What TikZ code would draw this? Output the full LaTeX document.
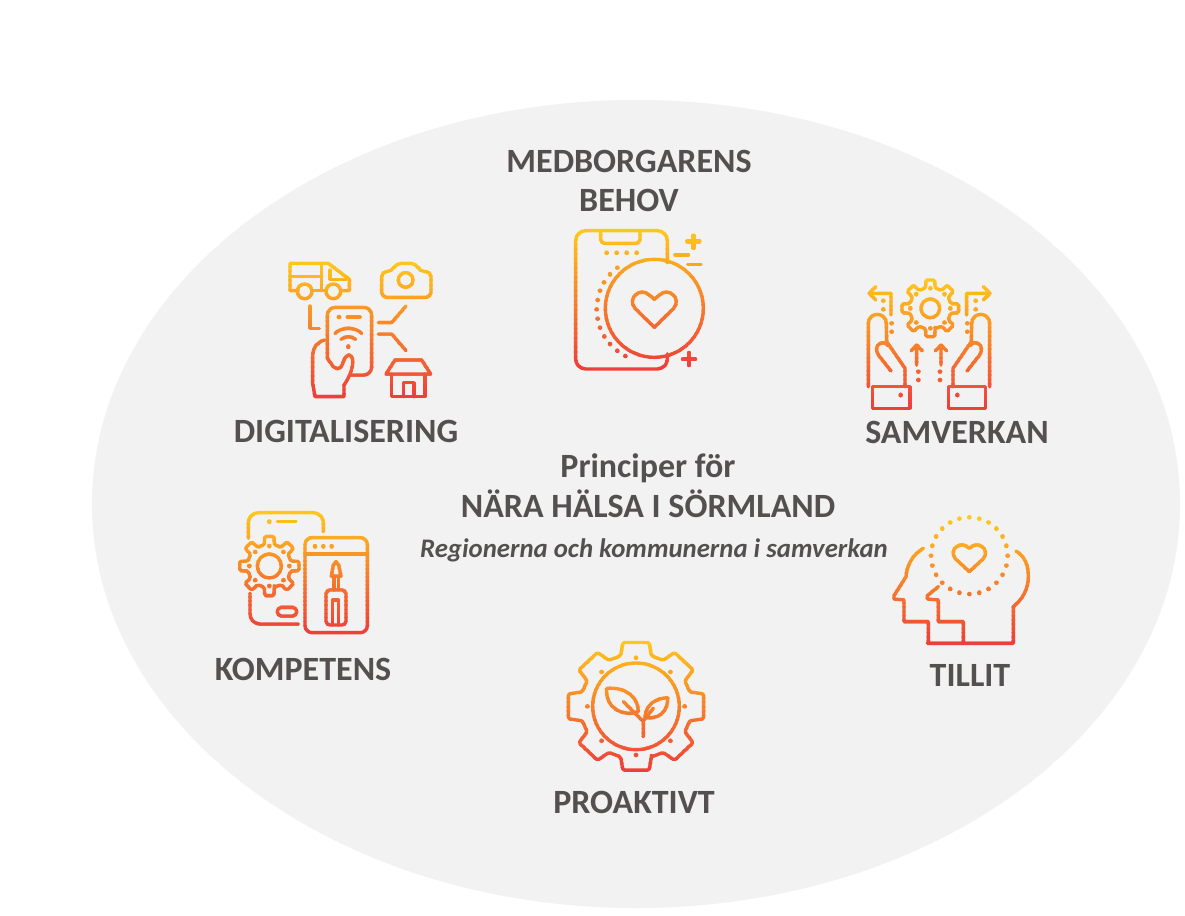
\documentclass[tikz,border=0pt]{standalone}
\usepackage{fontspec}
\setmainfont{Carlito}
\definecolor{txtc}{HTML}{545050}
\definecolor{bgell}{HTML}{F2F2F2}
\definecolor{icyel}{HTML}{FFC61C}
\definecolor{icred}{HTML}{EE3F3A}
\tikzset{lab/.style={text=txtc,inner sep=0pt,align=center,font=\bfseries\fontsize{34}{39.5}\selectfont}}
\newcommand\gradicon[5]{%
  \begin{scope}[shift={(#1,#2)},x=.33333pt,y=-.33333pt,line width=3.4pt,line cap=round,line join=round]
  \foreach \gi in {0,...,29}{%
    \pgfmathsetmacro\gv{100*\gi/29}%
    \pgfmathsetmacro\ga{\gi==0 ? -60 : #3+(#4-#3)*\gi/30}%
    \pgfmathsetmacro\gb{\gi==29 ? 700 : #3+(#4-#3)*(\gi+1)/30+2}%
    \colorlet{icol}{icred!\gv!icyel}%
    \begin{scope}[color=icol]
      \clip (-60,\ga) rectangle (700,\gb);
      #5
    \end{scope}
  }
  \end{scope}}
\newcommand\dt[2]{\fill (#1,#2) circle (7);}
% cx cy rout rin n halftop halfbase offset
\newcommand\gearp[8]{%
  \draw[shift={(#1,#2)},rounded corners=1.5pt] (#8-#7:#4)
   \foreach \gk in {1,...,#5}{ -- ({#8+(\gk-1)*360/#5-#6}:#3) -- ({#8+(\gk-1)*360/#5+#6}:#3) -- ({#8+(\gk-1)*360/#5+#7}:#4) -- ({#8+\gk*360/#5-#7}:#4)} -- cycle;}
\newcommand\geardots[5]{\foreach \gk in {1,...,#4}{\fill[shift={(#1,#2)}] ({#5+(\gk-1)*360/#4}:#3) circle (7);}}
\begin{document}
\begin{tikzpicture}[x=1pt,y=-1pt]
\useasboundingbox (0,0) rectangle (1185,915);
\fill[white] (0,0) rectangle (1185,915);
\fill[bgell] (636,504) ellipse [x radius=544,y radius=404];
% texts
\node[lab] (med) at (629,181) {MEDBORGARENS\\BEHOV};
\node[lab,anchor=base] (dig) at (346,442) {DIGITALISERING};
\node[lab,anchor=base] (sam) at (957,443) {SAMVERKAN};
\node[lab,anchor=base] (tit1) at (648,477) {Principer för};
\node[lab,anchor=base] (tit2) at (648,517) {NÄRA HÄLSA I SÖRMLAND};
\node[lab,anchor=base,font=\bfseries\itshape\fontsize{26.8}{30}\selectfont] (tit3) at (654,557) {Regionerna och kommunerna i samverkan};
\node[lab,anchor=base] (kom) at (303,680) {KOMPETENS};
\node[lab,anchor=base] (til) at (970,686) {TILLIT};
\node[lab,anchor=base] (pro) at (634,813) {PROAKTIVT};
% digitalisering
\gradicon{270}{220}{125}{535}{
 \draw (85,212) -- (60,212) -- (60,130) -- (175,130) -- (238,178) -- (238,212) -- (213,212);
 \draw (125,212) -- (168,212) (155,130) -- (155,212) (60,170) -- (155,170);
 \draw (180,150) -- (180,178) -- (228,178);
 \draw (104,214) circle (22) (190,214) circle (22);
 \draw[rounded corners=5pt] (335,232) -- (335,155) -- (365,155) -- (378,130) -- (438,130) -- (450,155) -- (483,155) -- (483,232) -- cycle;
 \draw (407,180) circle (22);
 \draw (120,258) -- (120,325) -- (148,325);
 \draw (325,308) -- (365,308) -- (408,258) (325,342) -- (365,342) -- (408,392);
 \draw[rounded corners=8pt] (172,415) -- (172,262) -- (305,262) -- (305,465) -- (245,465);
 \dt{207}{291}
 \draw (232,291) -- (270,291);
 \draw (195,340) .. controls (215,320) and (255,320) .. (275,340);
 \draw (213,358) .. controls (225,348) and (245,348) .. (257,358);
 \dt{235}{380}
 \draw (165,360) .. controls (140,365) and (128,385) .. (128,410) -- (128,490) -- (135,530) -- (222,530) -- (222,495) .. controls (240,470) and (250,440) .. (248,420) .. controls (245,400) and (230,400) .. (222,420) .. controls (215,440) and (210,455) .. (190,440) -- (172,415);
 \draw (348,462) -- (375,420) -- (455,420) -- (482,462) -- cycle;
 \draw (365,462) -- (365,530) -- (465,530) -- (465,462);
 \draw (400,530) -- (400,488) -- (432,488) -- (432,530);
}
% medborgarens behov
\gradicon{560}{220}{30}{450}{
 \draw[rounded corners=10pt] (322,128) -- (322,32) -- (47,32) -- (47,447) -- (322,447) -- (322,402);
 \draw[rounded corners=4pt] (122,33) -- (122,70) -- (240,70) -- (240,33);
 \dt{140}{98}\dt{170}{98}\dt{200}{98}\dt{230}{98}
 \dt{172}{143}\dt{150}{163}\dt{132}{187}\dt{120}{212}\dt{113}{240}\dt{110}{268}\dt{113}{296}\dt{120}{323}\dt{133}{349}\dt{150}{372}\dt{172}{392}\dt{196}{408}
 \draw (283,265) circle (147);
 \draw (283,322) -- (225,265) .. controls (200,235) and (240,200) .. (268,225) -- (283,238) -- (298,225) .. controls (326,200) and (366,235) .. (341,265) -- cycle;
 \draw[line width=4.5pt] (400,47) -- (400,83) (382,65) -- (418,65) (387,399) -- (387,435) (369,417) -- (405,417);
 \draw (345,105) -- (385,105) (383,133) -- (423,133);
}
% samverkan
\gradicon{855}{270}{28}{418}{
 \gearp{226}{115}{86}{63}{8}{9}{13}{90}
 \draw (226,115) circle (28);
 \geardots{226}{115}{60}{8}{90}
 \draw (108,135) -- (108,70) -- (42,70) (62,50) -- (42,70) -- (62,90);
 \draw (335,135) -- (335,70) -- (405,70) (385,50) -- (405,70) -- (385,90);
 \dt{85}{92}\dt{85}{118}\dt{110}{160}\dt{110}{185}
 \dt{362}{92}\dt{362}{118}\dt{337}{160}\dt{337}{185}
 \draw (40,350) -- (40,160) arc[start angle=180,end angle=360,radius=27] -- (95,215) -- (150,295) -- (150,350);
 \draw (108,303) -- (70,255) .. controls (52,225) and (85,205) .. (100,228);
 \draw (404,350) -- (404,160) arc[start angle=0,end angle=-180,radius=27] -- (349,215) -- (294,295) -- (294,350);
 \draw (336,303) -- (374,255) .. controls (392,225) and (359,205) .. (344,228);
 \draw (52,350) rectangle (165,415) (280,350) rectangle (392,415);
 \dt{137}{375}\dt{307}{375}
 \draw (185,285) -- (185,225) (168,243) -- (185,225) -- (202,243);
 \draw (258,285) -- (258,225) (241,243) -- (258,225) -- (275,243);
 \dt{190}{305}\dt{190}{330}\dt{255}{305}\dt{255}{330}
}
% kompetens
\gradicon{230}{500}{35}{400}{
 \draw[rounded corners=10pt] (55,115) -- (55,38) -- (280,38) -- (280,95);
 \draw[rounded corners=10pt] (60,280) -- (60,372) -- (205,372);
 \dt{118}{65}
 \draw (142,65) -- (198,65);
 \draw[rounded corners=4pt] (142,322) rectangle (200,348);
 \gearp{118}{198}{90}{66}{8}{9}{13}{90}
 \draw (118,198) circle (36);
 \geardots{118}{198}{60}{8}{90}
 \draw[rounded corners=7pt] (225,113) rectangle (412,398);
 \draw (225,162) -- (412,162);
 \dt{255}{139}\dt{280}{139}\dt{305}{139}
 \draw[rounded corners=4pt] (288,270) rectangle (348,375);
 \draw (308,300) -- (308,375) (325,300) -- (325,375) (308,300) -- (325,300);
 \draw (312,228) -- (312,270) (325,228) -- (325,270);
 \draw (304,228) -- (333,228) -- (326,195) -- (318,185) -- (310,195) -- cycle;
}
% tillit
\gradicon{880}{505}{38}{420}{
 \foreach \ang in {0,15,...,345}{\fill (268,152) ++(\ang:115) circle (7);}
 \draw (268,200) -- (225,160) .. controls (205,130) and (245,105) .. (268,130) .. controls (291,105) and (331,130) .. (311,160) -- cycle;
 \draw (408,138) .. controls (435,155) and (445,180) .. (445,215) .. controls (445,255) and (425,285) .. (400,305) -- (400,415) -- (142,415);
 \draw (130,130) .. controls (95,150) and (80,185) .. (78,215) -- (42,272) -- (42,282) -- (72,285) -- (72,350) -- (145,350) -- (145,415);
 \draw (175,245) -- (142,272) -- (142,282) -- (175,285) -- (175,350) -- (250,350) -- (250,415);
}
% proaktivt
\gradicon{555}{630}{33}{425}{
 \begin{scope}[x=.3533pt]
 \gearp{229.3}{229}{195}{158}{8}{11}{16}{90}
 \end{scope}
 \draw (243,229) circle (130);
 \geardots{243}{229}{146}{8}{90}
 \draw (155,175) .. controls (210,170) and (250,200) .. (250,245) .. controls (205,262) and (150,235) .. (155,175);
 \draw (205,215) -- (262,272);
 \draw (338,203) .. controls (300,205) and (272,225) .. (270,262) .. controls (310,270) and (340,245) .. (338,203);
 \draw (295,235) -- (265,272) (265,320) -- (265,270);
}
\end{tikzpicture}
\end{document}
